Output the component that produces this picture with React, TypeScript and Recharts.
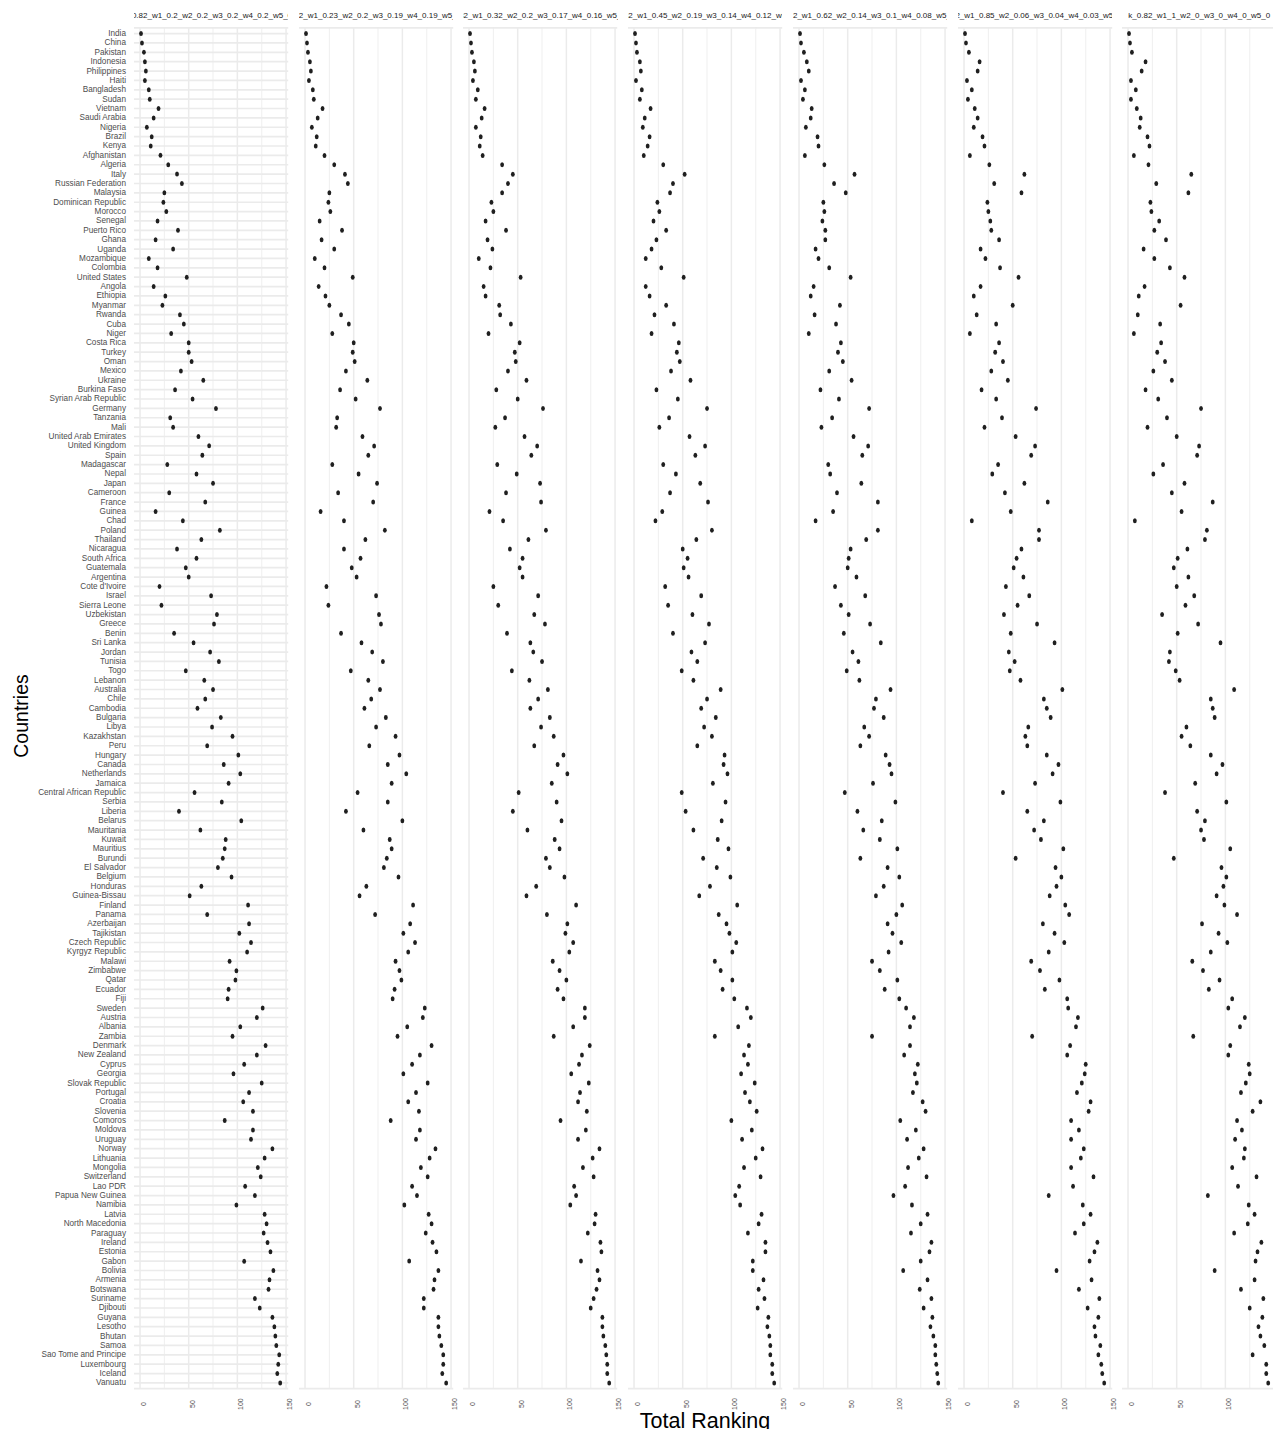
import React from 'react';
import { ScatterChart, Scatter, XAxis, YAxis, CartesianGrid, ReferenceLine } from 'recharts';

const countries = [
  'India', 'China', 'Pakistan', 'Indonesia', 'Philippines', 'Haiti', 'Bangladesh', 'Sudan', 'Vietnam', 'Saudi Arabia', 'Nigeria', 'Brazil', 'Kenya', 'Afghanistan', 'Algeria',
  'Italy', 'Russian Federation', 'Malaysia', 'Dominican Republic', 'Morocco', 'Senegal', 'Puerto Rico', 'Ghana', 'Uganda', 'Mozambique', 'Colombia', 'United States', 'Angola', 'Ethiopia', 'Myanmar',
  'Rwanda', 'Cuba', 'Niger', 'Costa Rica', 'Turkey', 'Oman', 'Mexico', 'Ukraine', 'Burkina Faso', 'Syrian Arab Republic', 'Germany', 'Tanzania', 'Mali', 'United Arab Emirates', 'United Kingdom',
  'Spain', 'Madagascar', 'Nepal', 'Japan', 'Cameroon', 'France', 'Guinea', 'Chad', 'Poland', 'Thailand', 'Nicaragua', 'South Africa', 'Guatemala', 'Argentina', "Cote d'Ivoire",
  'Israel', 'Sierra Leone', 'Uzbekistan', 'Greece', 'Benin', 'Sri Lanka', 'Jordan', 'Tunisia', 'Togo', 'Lebanon', 'Australia', 'Chile', 'Cambodia', 'Bulgaria', 'Libya',
  'Kazakhstan', 'Peru', 'Hungary', 'Canada', 'Netherlands', 'Jamaica', 'Central African Republic', 'Serbia', 'Liberia', 'Belarus', 'Mauritania', 'Kuwait', 'Mauritius', 'Burundi', 'El Salvador',
  'Belgium', 'Honduras', 'Guinea-Bissau', 'Finland', 'Panama', 'Azerbaijan', 'Tajikistan', 'Czech Republic', 'Kyrgyz Republic', 'Malawi', 'Zimbabwe', 'Qatar', 'Ecuador', 'Fiji', 'Sweden',
  'Austria', 'Albania', 'Zambia', 'Denmark', 'New Zealand', 'Cyprus', 'Georgia', 'Slovak Republic', 'Portugal', 'Croatia', 'Slovenia', 'Comoros', 'Moldova', 'Uruguay', 'Norway',
  'Lithuania', 'Mongolia', 'Switzerland', 'Lao PDR', 'Papua New Guinea', 'Namibia', 'Latvia', 'North Macedonia', 'Paraguay', 'Ireland', 'Estonia', 'Gabon', 'Bolivia', 'Armenia', 'Botswana',
  'Suriname', 'Djibouti', 'Guyana', 'Lesotho', 'Bhutan', 'Samoa', 'Sao Tome and Principe', 'Luxembourg', 'Iceland', 'Vanuatu',
];

// total ranking per weighting scheme, same order as countries
const rankW1_020 = [
  1, 2, 4, 5, 6, 5, 9, 10, 19, 14, 7, 12, 11, 21, 29,
  38, 43, 25, 24, 27, 18, 39, 16, 34, 9, 18, 48, 14, 26, 23,
  41, 45, 32, 50, 50, 53, 42, 65, 36, 54, 78, 31, 34, 60, 71,
  64, 28, 58, 75, 30, 67, 16, 44, 82, 63, 38, 58, 47, 50, 20,
  73, 22, 79, 76, 35, 55, 72, 81, 47, 66, 75, 67, 59, 83, 74,
  95, 69, 101, 86, 103, 91, 56, 84, 40, 104, 62, 88, 87, 85, 80,
  94, 63, 51, 111, 69, 112, 102, 114, 110, 92, 99, 98, 91, 90, 126,
  120, 103, 95, 129, 120, 107, 96, 125, 112, 106, 116, 87, 116, 114, 136,
  128, 121, 124, 108, 118, 99, 128, 130, 127, 131, 134, 107, 137, 133, 132,
  118, 123, 136, 138, 139, 140, 143, 142, 141, 144,
];

const rankW1_023 = [
  1, 2, 3, 5, 6, 4, 8, 9, 18, 13, 7, 12, 11, 20, 30,
  41, 44, 25, 24, 26, 15, 38, 17, 30, 10, 20, 49, 14, 21, 25,
  37, 45, 28, 50, 49, 51, 42, 64, 36, 52, 77, 33, 32, 59, 71,
  65, 28, 55, 74, 34, 70, 16, 40, 82, 62, 40, 57, 48, 53, 22,
  73, 24, 76, 78, 37, 58, 69, 80, 47, 65, 77, 68, 61, 83, 73,
  93, 66, 97, 85, 104, 89, 54, 85, 42, 100, 60, 87, 89, 84, 81,
  96, 63, 56, 111, 72, 108, 101, 113, 106, 93, 97, 99, 92, 90, 123,
  121, 105, 95, 130, 118, 110, 101, 126, 114, 106, 117, 88, 118, 114, 134,
  128, 119, 126, 110, 115, 102, 127, 130, 124, 131, 135, 107, 137, 133, 132,
  122, 122, 137, 137, 138, 140, 142, 142, 141, 145,
];

const rankW1_032 = [
  1, 2, 3, 5, 6, 4, 9, 7, 16, 13, 7, 12, 11, 14, 34,
  45, 40, 34, 23, 25, 17, 38, 19, 24, 10, 22, 53, 15, 17, 31,
  32, 43, 20, 52, 47, 48, 40, 59, 28, 50, 76, 37, 27, 57, 70,
  64, 29, 49, 73, 38, 74, 21, 35, 79, 61, 42, 55, 52, 55, 25,
  71, 30, 67, 78, 39, 63, 66, 75, 44, 62, 81, 71, 63, 83, 74,
  87, 67, 97, 91, 101, 85, 51, 90, 45, 95, 60, 88, 93, 79, 83,
  98, 69, 59, 110, 80, 101, 99, 107, 103, 86, 93, 100, 91, 97, 119,
  119, 107, 87, 124, 116, 113, 105, 123, 114, 112, 121, 94, 120, 112, 134,
  127, 117, 128, 108, 110, 104, 130, 129, 122, 135, 136, 115, 132, 134, 131,
  128, 125, 137, 137, 138, 140, 141, 142, 142, 144,
];

const rankW1_045 = [
  1, 2, 3, 6, 7, 2, 8, 6, 17, 11, 9, 16, 14, 10, 30,
  52, 40, 37, 24, 26, 20, 33, 23, 18, 12, 28, 51, 12, 16, 33,
  21, 41, 18, 46, 44, 47, 38, 58, 23, 45, 75, 36, 26, 57, 73,
  63, 30, 43, 68, 37, 76, 29, 22, 80, 64, 50, 55, 51, 56, 32,
  69, 35, 60, 77, 40, 73, 59, 65, 49, 61, 89, 75, 69, 84, 72,
  80, 65, 93, 92, 96, 81, 49, 94, 53, 90, 61, 86, 97, 71, 85,
  99, 78, 67, 106, 87, 95, 98, 105, 101, 83, 89, 101, 91, 103, 116,
  120, 107, 83, 118, 113, 117, 110, 124, 114, 119, 126, 100, 121, 111, 132,
  125, 113, 130, 108, 104, 109, 131, 128, 117, 135, 135, 122, 122, 133, 128,
  134, 127, 138, 137, 139, 140, 140, 142, 142, 144,
];

const rankW1_062 = [
  1, 2, 5, 8, 10, 2, 6, 4, 13, 12, 7, 19, 20, 6, 26,
  57, 36, 48, 25, 26, 24, 27, 27, 17, 20, 31, 53, 15, 12, 42,
  16, 38, 10, 43, 40, 45, 31, 54, 22, 41, 72, 34, 23, 56, 71,
  65, 30, 32, 64, 39, 81, 35, 17, 81, 69, 53, 51, 50, 59, 37,
  68, 43, 51, 73, 46, 84, 55, 61, 49, 62, 94, 79, 77, 87, 67,
  72, 63, 89, 93, 95, 76, 47, 99, 60, 85, 66, 83, 101, 63, 91,
  103, 87, 79, 106, 100, 91, 96, 105, 92, 75, 83, 101, 88, 103, 110,
  118, 114, 75, 114, 108, 122, 119, 121, 117, 127, 130, 104, 120, 111, 128,
  123, 112, 131, 109, 97, 116, 132, 125, 115, 136, 134, 125, 107, 132, 124,
  136, 128, 137, 135, 138, 140, 140, 141, 142, 143,
];

const rankW1_085 = [
  1, 2, 5, 16, 14, 3, 8, 4, 11, 14, 10, 19, 21, 6, 26,
  62, 31, 59, 24, 25, 27, 28, 36, 17, 22, 37, 56, 17, 10, 50,
  13, 33, 6, 36, 32, 40, 28, 45, 18, 33, 74, 39, 21, 53, 73,
  69, 35, 29, 62, 42, 86, 48, 8, 77, 77, 59, 54, 51, 61, 43,
  67, 55, 41, 75, 48, 93, 46, 52, 47, 58, 101, 82, 85, 89, 66,
  63, 65, 85, 97, 91, 73, 40, 99, 65, 82, 72, 79, 102, 53, 94,
  100, 95, 88, 104, 108, 81, 93, 103, 87, 69, 78, 98, 83, 106, 107,
  117, 115, 70, 109, 106, 125, 124, 121, 116, 130, 128, 110, 118, 110, 123,
  120, 110, 133, 112, 87, 122, 130, 123, 114, 137, 134, 129, 95, 131, 118,
  139, 127, 138, 134, 135, 140, 138, 141, 142, 144,
];

const rankW1_100 = [
  1, 2, 4, 18, 14, 3, 8, 3, 9, 13, 12, 20, 22, 6, 21,
  65, 29, 62, 23, 24, 32, 27, 39, 16, 27, 43, 58, 17, 11, 54,
  10, 33, 6, 34, 30, 38, 26, 45, 18, 31, 75, 40, 20, 50, 73,
  71, 36, 26, 58, 45, 87, 55, 7, 81, 79, 61, 51, 47, 62, 50,
  68, 59, 35, 72, 51, 95, 43, 42, 49, 53, 109, 85, 87, 89, 60,
  55, 64, 85, 97, 91, 69, 38, 101, 71, 79, 75, 78, 105, 47, 96,
  101, 98, 91, 99, 112, 76, 93, 102, 85, 66, 77, 94, 83, 107, 103,
  120, 115, 67, 105, 103, 124, 125, 121, 116, 136, 128, 112, 117, 110, 120,
  119, 107, 132, 113, 82, 124, 130, 123, 109, 137, 133, 131, 89, 130, 116,
  139, 125, 138, 134, 136, 140, 128, 142, 142, 144,
];

const panelRanks = [rankW1_020, rankW1_023, rankW1_032, rankW1_045, rankW1_062, rankW1_085, rankW1_100];

const panelTitles = [
  'k_0.82_w1_0.2_w2_0.2_w3_0.2_w4_0.2_w5_0.2',
  'k_0.82_w1_0.23_w2_0.2_w3_0.19_w4_0.19_w5_0.19',
  'k_0.82_w1_0.32_w2_0.2_w3_0.17_w4_0.16_w5_0.15',
  'k_0.82_w1_0.45_w2_0.19_w3_0.14_w4_0.12_w5_0.1',
  'k_0.82_w1_0.62_w2_0.14_w3_0.1_w4_0.08_w5_0.06',
  'k_0.82_w1_0.85_w2_0.06_w3_0.04_w4_0.03_w5_0.02',
  'k_0.82_w1_1_w2_0_w3_0_w4_0_w5_0',
];

const xTicks = [0, 50, 100, 150];
const xMajorGrid = [0, 50, 100, 150];
const xMinorGrid = [25, 75, 125];
const rowTicks = countries.map((_, i) => i);

// layout of the facet grid
const W = 1273;
const H = 1429;
const LABEL_W = 134;
const PANEL_STEP = 164.7;
const PLOT_W = 154.2;
const RIGHT_PAD = 9;
const PLOT_TOP = 27.9;
const AXIS_H = 30.4;
const BOTTOM_PAD = 10;

const FONT = '"Liberation Sans", Arial, Helvetica, sans-serif';
const GRID = '#ebebeb';

const XTick = (props: any) => {
  const { x, y, payload } = props;
  return (
    <text
      transform={`translate(${x + 3.5},${y + 15.5}) rotate(-90)`}
      textAnchor="middle"
      dominantBaseline="central"
      fontSize={7}
      fill="#4d4d4d"
      fontFamily={FONT}
    >
      {payload.value}
    </text>
  );
};

const YTick = (props: any) => {
  const { x, y, payload } = props;
  return (
    <text
      x={x}
      y={y}
      textAnchor="end"
      dominantBaseline="central"
      fontSize={8.2}
      fill="#4d4d4d"
      fontFamily={FONT}
    >
      {countries[payload.value]}
    </text>
  );
};

const Dot = (props: any) => (
  <ellipse cx={props.cx} cy={props.cy} rx={1.9} ry={2.5} fill="#1f1f1f" />
);

function Panel({ idx, ranks }: { idx: number; ranks: number[] }) {
  const first = idx === 0;
  const data = ranks.map((r, i) => ({ rank: r, row: i }));
  const plotLeft = LABEL_W + idx * PANEL_STEP;
  return (
    <>
      <div
        style={{
          position: 'absolute',
          left: plotLeft,
          top: 11,
          width: PLOT_W,
          height: 10,
          lineHeight: '10px',
          overflow: 'hidden',
          display: 'flex',
          justifyContent: 'center',
          whiteSpace: 'nowrap',
          fontSize: 8,
          color: '#1a1a1a',
        }}
      >
        <span>{panelTitles[idx]}</span>
      </div>
      <div style={{ position: 'absolute', left: first ? 0 : plotLeft, top: 0 }}>
        <ScatterChart
          width={PLOT_W + RIGHT_PAD + (first ? LABEL_W : 0)}
          height={H}
          margin={{ top: PLOT_TOP, right: RIGHT_PAD, bottom: BOTTOM_PAD, left: 0 }}
        >
          <CartesianGrid stroke={GRID} strokeWidth={1.7} vertical={false} />
          {xMinorGrid.map((v) => (
            <ReferenceLine key={`m${v}`} x={v} stroke={GRID} strokeWidth={0.8} />
          ))}
          {xMajorGrid.map((v) => (
            <ReferenceLine key={`M${v}`} x={v} stroke={GRID} strokeWidth={1.5} />
          ))}
          <XAxis
            type="number"
            dataKey="rank"
            domain={[-6.2, 152.2]}
            ticks={xTicks}
            interval={0}
            height={AXIS_H}
            tickSize={0}
            tickMargin={0}
            axisLine={false}
            tickLine={false}
            tick={(p: any) => <XTick {...p} />}
          />
          <YAxis
            type="number"
            dataKey="row"
            domain={[-0.6, 144.6]}
            reversed
            ticks={rowTicks}
            interval={0}
            width={first ? LABEL_W : 0}
            tickSize={0}
            tickMargin={8}
            axisLine={false}
            tickLine={false}
            tick={first ? (p: any) => <YTick {...p} /> : false}
          />
          <Scatter data={data} isAnimationActive={false} shape={Dot} />
        </ScatterChart>
      </div>
    </>
  );
}

export default function App() {
  return (
    <div
      style={{
        position: 'absolute',
        left: 0,
        top: 0,
        width: W,
        height: H,
        overflow: 'hidden',
        background: '#fff',
        fontFamily: FONT,
      }}
    >
      {panelRanks.map((ranks, i) => (
        <Panel key={i} idx={i} ranks={ranks} />
      ))}
      <svg width={W} height={H} style={{ position: 'absolute', left: 0, top: 0, pointerEvents: 'none' }}>
        <text x={705} y={1428} textAnchor="middle" fontSize={21.5} fill="#000" fontFamily={FONT}>
          Total Ranking
        </text>
        <text
          transform="translate(28,716) rotate(-90)"
          textAnchor="middle"
          fontSize={19.5}
          fill="#000"
          fontFamily={FONT}
        >
          Countries
        </text>
      </svg>
    </div>
  );
}
